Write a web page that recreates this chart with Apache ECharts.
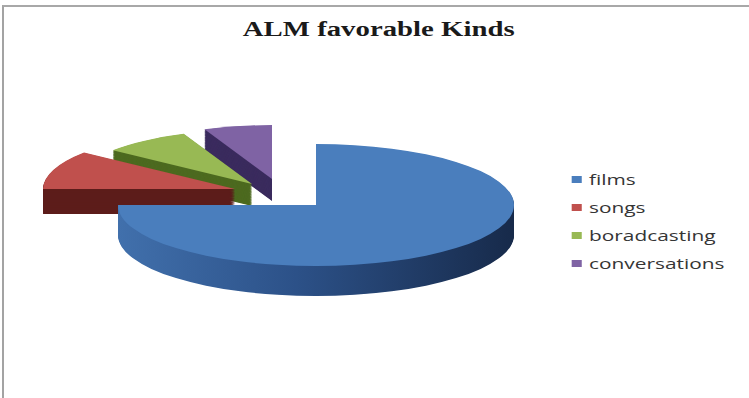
<!DOCTYPE html>
<html><head><meta charset="utf-8">
<script src="https://cdn.jsdelivr.net/npm/echarts@6/dist/echarts.min.js"></script>
<style>
html,body{margin:0;padding:0;width:749px;height:398px;overflow:hidden;background:#fff;position:relative}
#frame{position:absolute;left:2px;top:5px;width:760px;height:400px;border-left:2px solid #a3a3a3;border-top:2px solid #a8a8a8;}
#pie{position:absolute;left:0;top:0;width:749px;height:1292px;transform-origin:0 0;transform:scaleY(0.308);}
#txt{position:absolute;left:0;top:0;width:526px;height:398px;transform-origin:0 0;transform:scaleX(1.44);}
</style></head><body>
<div id="frame"></div><div id="pie"></div><div id="txt"></div>
<script>
// ---- data ----
const categories = ['films', 'songs', 'boradcasting', 'conversations'];
const values = [75, 10.6, 8.1, 6.3];
const chartTitle = 'ALM favorable Kinds';

// ---- styling ----
const SY = 0.308, SX = 1.44;
const topColors = ['#4A7EBD', '#C0504D', '#98B954', '#7F63A4'];
const sideColors = [
  {type: 'linear', x: 0, y: 0, x2: 1, y2: 0, colorStops: [
    {offset: 0, color: '#4170AC'}, {offset: 0.45, color: '#2C5188'}, {offset: 1, color: '#172A4A'}]},
  '#5C1C1B', '#4D6A20', '#3B2C5E'
];
const sliceCenters = [[316, 205], [235, 189], [252, 184], [272, 179]];
const sliceRadii = [198, 192, 177, 175];
const sliceDepths = [30, 25, 22, 22];
const LAYERS = 40;
const drawOrder = [3, 2, 1, 0];

function sliceSeries(idx, colorList, dy) {
  return {
    type: 'pie', silent: true, animation: false,
    startAngle: 90, clockwise: true,
    radius: sliceRadii[idx],
    center: [sliceCenters[idx][0], (sliceCenters[idx][1] + dy) / SY],
    label: {show: false}, labelLine: {show: false},
    emphasis: {disabled: true},
    itemStyle: {borderWidth: 0},
    data: categories.map((name, i) => ({
      name, value: values[i],
      itemStyle: {color: i === idx ? colorList[idx] : 'rgba(0,0,0,0)'}
    }))
  };
}

const pieSeries = [];
drawOrder.forEach(idx => {
  for (let k = LAYERS; k >= 1; k--) {
    pieSeries.push(sliceSeries(idx, sideColors, sliceDepths[idx] * k / LAYERS));
  }
});
drawOrder.forEach(idx => pieSeries.push(sliceSeries(idx, topColors, 0)));

const chartB = echarts.init(document.getElementById('pie'), null, {renderer: 'svg'});
chartB.setOption({animation: false, series: pieSeries});

const chartA = echarts.init(document.getElementById('txt'), null, {renderer: 'svg'});
chartA.setOption({
  animation: false,
  title: {
    text: chartTitle, left: 'center', top: 14,
    textStyle: {fontFamily: 'Liberation Serif', fontWeight: 'bold', fontSize: 20, color: '#1a1a1a'}
  },
  legend: {
    orient: 'vertical', left: 397, top: 172, padding: 0,
    itemWidth: 7, itemHeight: 7, itemGap: 13, icon: 'rect',
    textStyle: {fontFamily: 'Open Sans', fontSize: 14.5, color: '#353535', lineHeight: 14},
    data: categories
  },
  series: [{
    type: 'pie', radius: 0, center: [-100, -100], silent: true,
    label: {show: false}, labelLine: {show: false},
    data: categories.map((name, i) => ({name, value: values[i], itemStyle: {color: topColors[i]}}))
  }]
});
</script>
</body></html>
